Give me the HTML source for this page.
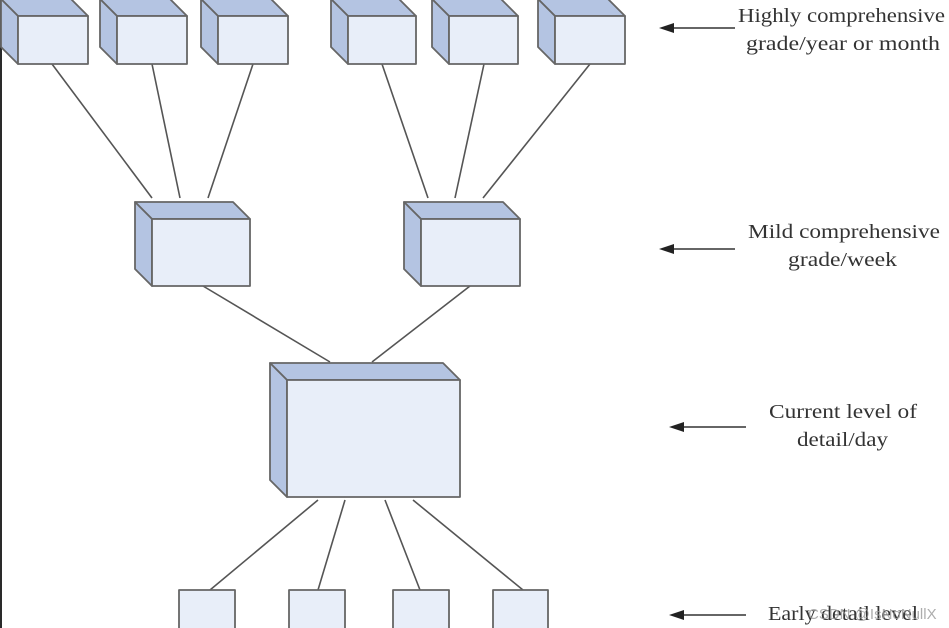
<!DOCTYPE html>
<html><head><meta charset="utf-8"><style>
html,body{margin:0;padding:0;background:#fff;width:949px;height:628px;overflow:hidden}
svg text{font-family:"Liberation Serif",serif;font-size:20px;fill:#333}
</style></head><body>
<svg width="949" height="628" viewBox="0 0 949 628" xmlns="http://www.w3.org/2000/svg">
<rect x="0" y="0" width="2" height="628" fill="#2a2a2a"/>
<g stroke="#555" stroke-width="1.6" fill="none">
<line x1="52" y1="64" x2="152" y2="198"/>
<line x1="152" y1="64" x2="180" y2="198"/>
<line x1="253" y1="64" x2="208" y2="198"/>
<line x1="382" y1="64" x2="428" y2="198"/>
<line x1="484" y1="64" x2="455" y2="198"/>
<line x1="590" y1="64" x2="483" y2="198"/>
<line x1="203" y1="286" x2="330" y2="362"/>
<line x1="470" y1="286" x2="372" y2="362"/>
<line x1="318" y1="500" x2="210" y2="590"/>
<line x1="345" y1="500" x2="318" y2="590"/>
<line x1="385" y1="500" x2="420" y2="590"/>
<line x1="413" y1="500" x2="523" y2="590"/>
</g>
<g stroke="#666" stroke-width="1.8" stroke-linejoin="round">
<polygon points="1,-1 71,-1 88,16 18,16" fill="#b4c4e2"/><polygon points="1,-1 18,16 18,64 1,47" fill="#b4c4e2"/><rect x="18" y="16" width="70" height="48" fill="#e8eef9"/>
<polygon points="100,-1 170,-1 187,16 117,16" fill="#b4c4e2"/><polygon points="100,-1 117,16 117,64 100,47" fill="#b4c4e2"/><rect x="117" y="16" width="70" height="48" fill="#e8eef9"/>
<polygon points="201,-1 271,-1 288,16 218,16" fill="#b4c4e2"/><polygon points="201,-1 218,16 218,64 201,47" fill="#b4c4e2"/><rect x="218" y="16" width="70" height="48" fill="#e8eef9"/>
<polygon points="331,-1 399,-1 416,16 348,16" fill="#b4c4e2"/><polygon points="331,-1 348,16 348,64 331,47" fill="#b4c4e2"/><rect x="348" y="16" width="68" height="48" fill="#e8eef9"/>
<polygon points="432,-1 501,-1 518,16 449,16" fill="#b4c4e2"/><polygon points="432,-1 449,16 449,64 432,47" fill="#b4c4e2"/><rect x="449" y="16" width="69" height="48" fill="#e8eef9"/>
<polygon points="538,-1 608,-1 625,16 555,16" fill="#b4c4e2"/><polygon points="538,-1 555,16 555,64 538,47" fill="#b4c4e2"/><rect x="555" y="16" width="70" height="48" fill="#e8eef9"/>
<polygon points="135,202 233,202 250,219 152,219" fill="#b4c4e2"/><polygon points="135,202 152,219 152,286 135,269" fill="#b4c4e2"/><rect x="152" y="219" width="98" height="67" fill="#e8eef9"/>
<polygon points="404,202 503,202 520,219 421,219" fill="#b4c4e2"/><polygon points="404,202 421,219 421,286 404,269" fill="#b4c4e2"/><rect x="421" y="219" width="99" height="67" fill="#e8eef9"/>
<polygon points="270,363 443,363 460,380 287,380" fill="#b4c4e2"/><polygon points="270,363 287,380 287,497 270,480" fill="#b4c4e2"/><rect x="287" y="380" width="173" height="117" fill="#e8eef9"/>
<rect x="179" y="590" width="56" height="45" fill="#e8eef9"/>
<rect x="289" y="590" width="56" height="45" fill="#e8eef9"/>
<rect x="393" y="590" width="56" height="45" fill="#e8eef9"/>
<rect x="493" y="590" width="55" height="45" fill="#e8eef9"/>
</g>
<g stroke="#333" stroke-width="1.6">
<line x1="672" y1="28" x2="735" y2="28"/>
<line x1="672" y1="249" x2="735" y2="249"/>
<line x1="682" y1="427" x2="746" y2="427"/>
<line x1="682" y1="615" x2="746" y2="615"/>
</g>
<g fill="#222">
<polygon points="659,28 674,23 674,33"/>
<polygon points="659,249 674,244 674,254"/>
<polygon points="669,427 684,422 684,432"/>
<polygon points="669,615 684,610 684,620"/>
</g>
<text x="738" y="22" textLength="207" lengthAdjust="spacingAndGlyphs">Highly comprehensive</text>
<text x="746" y="50" textLength="194" lengthAdjust="spacingAndGlyphs">grade/year or month</text>
<text x="748" y="238" textLength="192" lengthAdjust="spacingAndGlyphs">Mild comprehensive</text>
<text x="788" y="266" textLength="109" lengthAdjust="spacingAndGlyphs">grade/week</text>
<text x="769" y="418" textLength="148" lengthAdjust="spacingAndGlyphs">Current level of</text>
<text x="797" y="446" textLength="91" lengthAdjust="spacingAndGlyphs">detail/day</text>
<text x="768" y="620" textLength="150" lengthAdjust="spacingAndGlyphs">Early detail level</text>
<text x="808" y="619" style="font-family:'Liberation Sans',sans-serif;font-size:15px;fill:#999;opacity:0.8">CSDN @IsNoNullX</text>
</svg>
</body></html>
